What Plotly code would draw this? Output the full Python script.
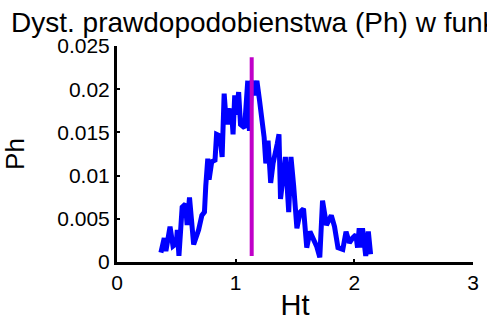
import plotly.graph_objects as go

ht = [0.370, 0.398, 0.412, 0.447, 0.472, 0.500, 0.508, 0.522, 0.549, 0.577,
      0.591, 0.611, 0.646, 0.688, 0.715, 0.737, 0.748, 0.765, 0.776, 0.798,
      0.826, 0.839, 0.867, 0.886, 0.903, 0.922, 0.936, 0.950, 0.964, 0.978,
      0.992, 1.005, 1.025, 1.041, 1.075, 1.102, 1.116, 1.135, 1.157, 1.179,
      1.199, 1.212, 1.240, 1.254, 1.273, 1.295, 1.315, 1.350, 1.365, 1.378,
      1.419, 1.447, 1.466, 1.489, 1.516, 1.544, 1.572, 1.599, 1.626, 1.682,
      1.709, 1.732, 1.765, 1.806, 1.833, 1.862, 1.903, 1.930, 1.958, 1.986,
      2.013, 2.027, 2.041, 2.055, 2.069, 2.096, 2.118, 2.137]
ph = [0.00109, 0.00278, 0.00127, 0.00409, 0.00184, 0.00214, 0.00372, 0.00071, 0.00634, 0.00672,
      0.00428, 0.00747, 0.00203, 0.00372, 0.00540, 0.00578, 0.00878, 0.01197, 0.00954, 0.01160,
      0.01179, 0.01478, 0.01460, 0.01216, 0.01948, 0.01591, 0.01779, 0.01591, 0.01779, 0.01478,
      0.01929, 0.01704, 0.01967, 0.01591, 0.01554, 0.02098, 0.01517, 0.02098, 0.01929, 0.02098,
      0.01892, 0.01742, 0.01441, 0.01141, 0.01404, 0.00915, 0.01141, 0.01366, 0.01478, 0.00729,
      0.01216, 0.00578, 0.01216, 0.00878, 0.00391, 0.00578, 0.00616, 0.00166, 0.00352, 0.00184,
      0.00053, 0.00709, 0.00428, 0.00540, 0.00409, 0.00166, 0.00146, 0.00352, 0.00222, 0.00278,
      0.00315, 0.00166, 0.00391, 0.00166, 0.00391, 0.00071, 0.00352, 0.00090]

mean_x = [1.135, 1.135]
mean_y = [0.0007, 0.0237]

x_ticks = [0, 1, 2, 3]
y_ticks = [0, 0.005, 0.01, 0.015, 0.02, 0.025]
y_tick_text = ["0", "0.005", "0.01", "0.015", "0.02", "0.025"]

title_text = "Dyst. prawdopodobienstwa (Ph) w funkcji Ht"

font_family = "Liberation Sans, Arial, sans-serif"

fig = go.Figure()
fig.add_trace(go.Scatter(x=ht, y=ph, mode="lines",
                         line=dict(color="#0000ff", width=5), showlegend=False))
fig.add_trace(go.Scatter(x=mean_x, y=mean_y, mode="lines",
                         line=dict(color="#c000c8", width=4), showlegend=False))

fig.update_layout(
    width=487, height=325,
    margin=dict(l=117, r=8, t=46, b=57),
    paper_bgcolor="white", plot_bgcolor="white",
    font=dict(family=font_family, color="black"),
    annotations=[dict(text=title_text, xref="paper", yref="paper",
                      x=-0.304, y=1.11, xanchor="left", yanchor="middle",
                      showarrow=False, font=dict(size=28, color="black"))],
)
fig.update_xaxes(range=[0, 3], tickvals=x_ticks, ticktext=[str(v) for v in x_ticks],
                 showgrid=False, zeroline=False, showline=True, linecolor="black",
                 linewidth=3, ticks="inside", ticklen=3, tickwidth=2, tickcolor="black",
                 tickfont=dict(size=21),
                 title=dict(text="Ht", font=dict(size=29), standoff=2))
fig.update_yaxes(range=[0, 0.025], tickvals=y_ticks, ticktext=y_tick_text,
                 showgrid=False, zeroline=False, showline=True, linecolor="black",
                 linewidth=3, ticks="inside", ticklen=3, tickwidth=2, tickcolor="black",
                 tickfont=dict(size=21),
                 title=dict(text="Ph", font=dict(size=26), standoff=26))

fig.write_html("out.html")
